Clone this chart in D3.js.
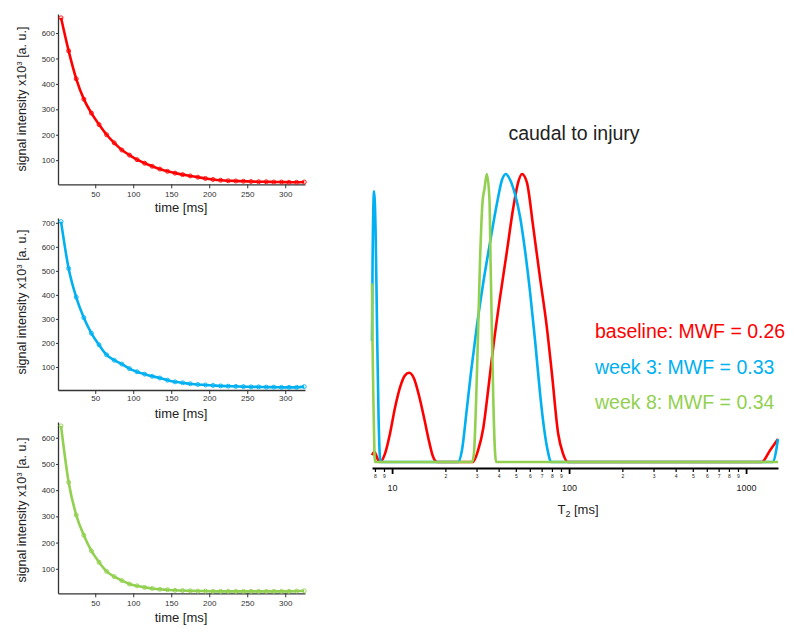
<!DOCTYPE html>
<html>
<head>
<meta charset="utf-8">
<script src="https://cdn.jsdelivr.net/npm/d3@7"></script>
<style>
  html, body { margin: 0; padding: 0; background: #fff; }
  svg { display: block; font-family: "Liberation Sans", Arial, sans-serif; }
</style>
</head>
<body>
<svg id="chart" width="800" height="638"></svg>
<script>
// ---------- Data: echo decay curves ----------
const decayTimes = [5,15,25,35,45,55,65,75,85,95,105,115,125,135,145,155,165,175,185,195,205,215,225,235,245,255,265,275,285,295,305,315,325];
const baselineSignal = [660,530,420,340,285,240,200,168,140,120,102,88,76,65,56,49,43,38,33,28,24,21,19,18,17,16,15,15,14,14,13,13,14];
const week3Signal   = [705,510,390,305,240,192,150,128,112,93,80,70,61,54,45,38,34,30,27,25,23,21,20,19,18,17,17,16,16,15,15,15,18];
const week8Signal   = [645,430,305,228,168,125,90,70,55,42,35,29,25,22,20,18,17,16,15,15,14,14,14,14,14,14,14,14,14,14,14,15,16];
const decayXTicks = [50,100,150,200,250,300];
const decayYTicks1 = [100,200,300,400,500,600];
const decayYTicks2 = [100,200,300,400,500,600,700];
const decayYTicks3 = [100,200,300,400,500,600];

// ---------- Data: T2 distributions ----------
const baselineT2  = [7.7,7.96,8.17,8.39,8.56,9.13,9.74,10.4,11.1,11.8,12.5,13.3,14.2,15.2,16.2,17.0,18.0,28.6,30.6,32.8,34.9,37.3,40.7,44.5,48.3,51.5,54.2,57.8,62.6,68.5,74.8,80.2,86.7,92.3,98.5,1227,1364,1515];
const baselineAmp = [0.024,0.035,0.02,0.003,0,0.03,0.10,0.19,0.26,0.30,0.31,0.29,0.23,0.15,0.07,0.02,0,0,0.04,0.12,0.25,0.40,0.57,0.73,0.88,0.97,1.0,0.97,0.82,0.64,0.47,0.30,0.10,0.03,0,0,0.04,0.08];
const week3T2  = [7.7,7.76,7.91,8.07,8.23,8.39,8.56,8.67,23.6,24.8,26.4,27.9,30.1,32.7,35.7,39.2,41.8,43.9,46.4,49.5,52.9,56.5,60.2,64.3,68.5,72.1,76.3,79,1413,1515];
const week3Amp = [0.42,0.7,0.94,0.8,0.45,0.15,0.01,0,0,0.04,0.18,0.31,0.47,0.62,0.76,0.90,0.98,1.0,0.98,0.93,0.85,0.73,0.59,0.42,0.24,0.12,0.03,0,0,0.08];
const week8T2  = [7.7,7.75,7.85,7.95,8.0,28.3,29.0,30.2,31.4,32.4,33.3,34.3,35.5,36.0,36.6,37.3,38.2,38.7,1515];
const week8Amp = [0.62,0.42,0.2,0.03,0,0,0.03,0.32,0.70,0.90,0.95,1.0,0.91,0.70,0.47,0.22,0.03,0,0];
const majorT2Ticks = [10,100,1000];
const minorT2Ticks = [8,9,20,30,40,50,60,70,80,90,200,300,400,500,600,700,800,900];

const seriesNames = ["baseline","week 3","week 8"];
const mwfValues = ["0.26","0.33","0.34"];
const colors = ["#ff0000","#00b0f0","#92d050"];

const svg = d3.select("#chart");

// ---------- Left decay panels ----------
const panels = [
  {sig: baselineSignal, yTicks: decayYTicks1, yDom:[5,675], yRange:[184.3,14], labelY: 99, color: colors[0], titleY: 212, pad: 3},
  {sig: week3Signal,   yTicks: decayYTicks2, yDom:[4,720], yRange:[390,218], labelY: 302, color: colors[1], titleY: 418, pad: 1},
  {sig: week8Signal,   yTicks: decayYTicks3, yDom:[6.5,660], yRange:[593.3,422], labelY: 510, color: colors[2], titleY: 622, pad: 3}
];

panels.forEach(p => {
  const x = d3.scaleLinear().domain([1,326]).range([58,305]);
  const y = d3.scaleLinear().domain(p.yDom).range(p.yRange);
  const g = svg.append("g");

  const xa = g.append("g").attr("transform", `translate(0,${p.yRange[0]})`)
    .call(d3.axisBottom(x).tickValues(decayXTicks).tickSize(4).tickPadding(p.pad).tickSizeOuter(0));
  const ya = g.append("g").attr("transform", `translate(58,0)`)
    .call(d3.axisLeft(y).tickValues(p.yTicks).tickSize(2).tickPadding(1).tickSizeOuter(0));
  [xa, ya].forEach(a => {
    a.select(".domain").attr("stroke", "#333").attr("stroke-width", 1.3);
    a.selectAll(".tick line").attr("stroke", "#333");
    a.selectAll(".tick text").attr("font-size", 8).attr("fill", "#333")
      .attr("font-family", "Liberation Sans, Arial, sans-serif");
  });

  const line = d3.line().x((d,i) => x(decayTimes[i])).y(d => y(d)).curve(d3.curveMonotoneX);
  g.append("path").datum(p.sig).attr("d", line)
    .attr("fill", "none").attr("stroke", p.color).attr("stroke-width", 2.6);
  g.selectAll("circle").data(p.sig).enter().append("circle")
    .attr("cx", (d,i) => x(decayTimes[i])).attr("cy", d => y(d)).attr("r", 2)
    .attr("fill", "none").attr("stroke", p.color).attr("stroke-width", 0.9);

  g.append("text").attr("x", 181).attr("y", p.titleY).attr("text-anchor", "middle")
    .attr("font-size", 13).attr("fill", "#222").text("time [ms]");
  const yl = g.append("text").attr("transform", `translate(26,${p.labelY}) rotate(-90)`)
    .attr("text-anchor", "middle").attr("font-size", 12.5).attr("fill", "#222");
  yl.append("tspan").text("signal intensity x10");
  yl.append("tspan").attr("font-size", 8).attr("dy", -4).text("3");
  yl.append("tspan").attr("dy", 4).text(" [a. u.]");
});

// ---------- Right T2 distribution ----------
const xT = d3.scaleLog().domain([7.7,1515]).range([372,778]);
const yA = d3.scaleLinear().domain([0,1]).range([462,174]);

svg.append("text").attr("x", 574).attr("y", 140).attr("text-anchor", "middle")
  .attr("font-size", 19.5).attr("fill", "#222").text("caudal to injury");

const dists = [
  {t: baselineT2, a: baselineAmp, c: colors[0]},
  {t: week3T2, a: week3Amp, c: colors[1]},
  {t: week8T2, a: week8Amp, c: colors[2]}
];
dists.forEach(d => {
  const line = d3.line().x((v,i) => xT(d.t[i])).y(v => yA(v)).curve(d3.curveMonotoneX);
  svg.append("path").datum(d.a).attr("d", line)
    .attr("fill", "none").attr("stroke", d.c).attr("stroke-width", 2.6)
    .attr("stroke-linejoin", "round");
});

// axis
const axMinor = svg.append("g").attr("transform", "translate(0,468)")
  .call(d3.axisBottom(xT).tickValues(minorT2Ticks).tickSize(4).tickPadding(2)
    .tickFormat(v => String(v).charAt(0)).tickSizeOuter(0));
axMinor.select(".domain").attr("stroke", "#000").attr("stroke-width", 2.2);
axMinor.selectAll(".tick line").attr("stroke", "#000").attr("stroke-width", 1.2);
axMinor.selectAll(".tick text").attr("font-size", 5).attr("fill", "#222")
  .attr("font-family", "Liberation Sans, Arial, sans-serif");

const axMajor = svg.append("g").attr("transform", "translate(0,468)")
  .call(d3.axisBottom(xT).tickValues(majorT2Ticks).tickSize(6).tickPadding(11)
    .tickFormat(d3.format("d")).tickSizeOuter(0));
axMajor.select(".domain").remove();
axMajor.selectAll(".tick line").attr("stroke", "#000").attr("stroke-width", 1.8);
axMajor.selectAll(".tick text").attr("font-size", 9).attr("fill", "#222")
  .attr("font-family", "Liberation Sans, Arial, sans-serif");

const t2l = svg.append("text").attr("x", 578).attr("y", 514).attr("text-anchor", "middle")
  .attr("font-size", 13).attr("fill", "#222");
t2l.append("tspan").text("T");
t2l.append("tspan").attr("font-size", 9).attr("dy", 3).text("2");
t2l.append("tspan").attr("dy", -3).text(" [ms]");

// legend
const legendY = [338, 374, 409];
seriesNames.forEach((n,i) => {
  svg.append("text").attr("x", 595).attr("y", legendY[i]).attr("font-size", 19.5)
    .attr("fill", colors[i]).text(`${n}: MWF = ${mwfValues[i]}`);
});
</script>
</body>
</html>
